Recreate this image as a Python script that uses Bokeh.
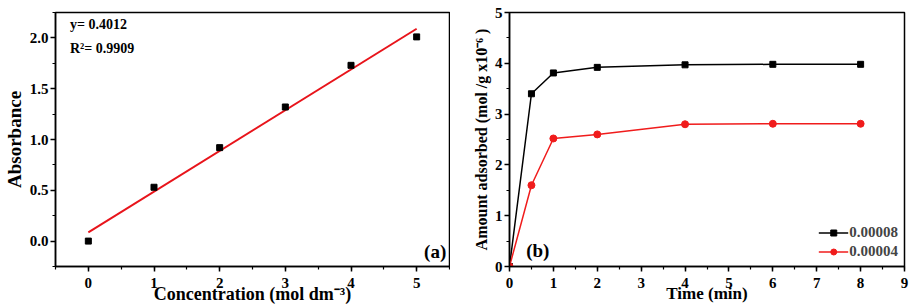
from bokeh.plotting import figure
from bokeh.layouts import row
from bokeh.models import Label, FixedTicker, PrintfTickFormatter, Range1d, Legend, LegendItem
from bokeh.embed import file_html
from bokeh.resources import INLINE

# ---- data: panel (a) ----
conc = [0, 1, 2, 3, 4, 5]
absorb = [0.0, 0.53, 0.92, 1.32, 1.73, 2.01]
fit_x = [0, 5]
fit_y = [0.085, 2.09]

# ---- data: panel (b) ----
time_min = [0, 0.5, 1, 2, 4, 6, 8]
amt_hi = [0.0, 3.40, 3.81, 3.92, 3.97, 3.98, 3.98]
amt_lo = [0.0, 1.60, 2.52, 2.60, 2.80, 2.81, 2.81]
series_names = ["0.00008", "0.00004"]

FONT = "Liberation Serif"


def style(p, xticks, yticks, fmt_y=None):
    p.xgrid.visible = False
    p.ygrid.visible = False
    p.outline_line_color = "black"
    p.outline_line_width = 1.5
    for ax in (p.xaxis[0], p.yaxis[0]):
        ax.axis_line_width = 1.5
        ax.major_tick_line_width = 1.5
        ax.minor_tick_line_width = 1.2
        ax.major_tick_out = 5
        ax.major_tick_in = 0
        ax.minor_tick_out = 3
        ax.minor_tick_in = 0
        ax.major_label_text_font = FONT
        ax.major_label_text_font_style = "bold"
        ax.major_label_text_font_size = "15px"
        ax.major_label_text_color = "black"
        ax.axis_label_text_font = FONT
        ax.axis_label_text_font_style = "bold"
        ax.axis_label_text_color = "black"
        ax.major_label_standoff = 2
        ax.axis_label_standoff = 2
    p.xaxis[0].major_label_standoff = 6
    p.xaxis[0].axis_label_standoff = -7
    p.xaxis[0].ticker = FixedTicker(ticks=xticks[0], minor_ticks=xticks[1])
    p.yaxis[0].ticker = FixedTicker(ticks=yticks[0], minor_ticks=yticks[1])
    if fmt_y:
        p.yaxis[0].formatter = PrintfTickFormatter(format=fmt_y)


def text(p, x, y, s, size, align="left"):
    p.add_layout(Label(x=x, y=y, text=s, text_align=align, text_baseline="middle",
                       text_font=FONT, text_font_style="bold", text_font_size=size,
                       text_color="black"))


# ---- panel (a) ----
p1 = figure(width=450, height=307, output_backend="svg", toolbar_location=None,
            x_range=Range1d(-0.5, 5.5), y_range=Range1d(-0.25, 2.25),
            min_border_left=52, min_border_right=1, min_border_top=12, min_border_bottom=39)
p1.background_fill_color = "white"
p1.border_fill_color = "white"
style(p1,
      ([0, 1, 2, 3, 4, 5], [x * 0.5 - 0.5 for x in range(13)]),
      ([0.0, 0.5, 1.0, 1.5, 2.0], [y * 0.25 - 0.25 for y in range(11)]),
      fmt_y="%.1f")
p1.yaxis[0].axis_label = "Absorbance"
p1.yaxis[0].axis_label_text_font_size = "19px"
p1.xaxis[0].axis_label = "Concentration (mol dm⁻³)"
p1.xaxis[0].axis_label_text_font_size = "18px"
p1.line(fit_x, fit_y, line_color="#e8141b", line_width=2)
p1.scatter(conc, absorb, marker="square", size=6, color="black")
text(p1, -0.28, 2.13, "y= 0.4012", "14px")
text(p1, -0.28, 1.90, "R²= 0.9909", "14px")
text(p1, 5.45, -0.1, "(a)", "19px", align="right")

# ---- panel (b) ----
p2 = figure(width=459, height=307, output_backend="svg", toolbar_location=None,
            x_range=Range1d(0, 9), y_range=Range1d(0, 5),
            min_border_left=59, min_border_right=5, min_border_top=11, min_border_bottom=41)
p2.background_fill_color = "white"
p2.border_fill_color = "white"
style(p2,
      (list(range(10)), [x * 0.5 for x in range(19)]),
      ([0, 1, 2, 3, 4, 5], [y * 0.5 for y in range(11)]))
p2.yaxis[0].axis_label = "Amount adsorbed (mol /g x10⁻⁶ )"
p2.yaxis[0].axis_label_text_font_size = "16px"
p2.xaxis[0].axis_label = "Time (min)"
p2.xaxis[0].axis_label_text_font_size = "17px"

l1 = p2.line(time_min, amt_hi, line_color="black", line_width=1.5)
s1 = p2.scatter(time_min, amt_hi, marker="square", size=6, color="black")
l2 = p2.line(time_min, amt_lo, line_color="#f01c1c", line_width=1.5)
s2 = p2.scatter(time_min, amt_lo, marker="circle", size=7, color="#f01c1c")
leg = Legend(items=[LegendItem(label=series_names[0], renderers=[l1, s1]),
                    LegendItem(label=series_names[1], renderers=[l2, s2])],
             location="bottom_right", border_line_color=None, background_fill_alpha=0,
             label_text_font=FONT, label_text_font_style="bold", label_text_font_size="15px",
             glyph_width=30, glyph_height=15, spacing=2, padding=0, margin=6,
             label_standoff=1)
p2.add_layout(leg)
text(p2, 0.38, 0.31, "(b)", "19px")

layout = row(p1, p2)
open("out.html", "w").write(file_html(layout, INLINE))
